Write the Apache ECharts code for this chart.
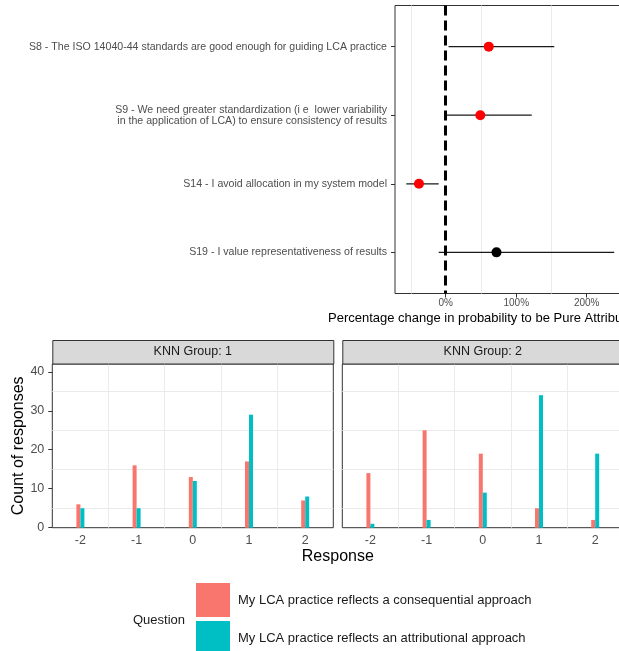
<!DOCTYPE html>
<html>
<head>
<meta charset="utf-8">
<script src="https://cdn.jsdelivr.net/npm/echarts@6/dist/echarts.min.js"></script>
<style>
  html, body { margin: 0; padding: 0; background: #fff; }
  #chart { width: 619px; height: 651px; }
</style>
</head>
<body>
<div id="chart"></div>
<script>
// top panel: effect of each statement on probability of group membership
const statements = [
  'S8 - The ISO 14040-44 standards are good enough for guiding LCA practice',
  'S9 - We need greater standardization (i e  lower variability\nin the application of LCA) to ensure consistency of results',
  'S14 - I avoid allocation in my system model',
  'S19 - I value representativeness of results'
]
const effect = [61, 49, -38, 72]
const effectLow = [4, 1, -56, -10]
const effectHigh = [154, 122, -10, 239]
const significant = [true, true, true, false]
const effectTicks = [0, 100, 200]
const effectMinor = [-50, 50, 150, 250]

// bottom panels: response counts per KNN group
const responses = ['-2', '-1', '0', '1', '2']
const questions = [
  'My LCA practice reflects a consequential approach',
  'My LCA practice reflects an attributional approach'
]
const groups = ['KNN Group: 1', 'KNN Group: 2']
const group1Consequential = [6, 16, 13, 17, 7]
const group1Attributional = [5, 5, 12, 29, 8]
const group2Consequential = [14, 25, 19, 5, 2]
const group2Attributional = [1, 2, 9, 34, 19]
const countTicks = [0, 10, 20, 30, 40]
const countMinor = [5, 15, 25, 35]

const FONT = '"Liberation Sans", Arial, sans-serif'
const RED = '#F8766D'
const CYAN = '#00BFC4'
const GRID_COLOR = '#ebebeb'

const panelLeft = [52.3, 342.3]
const panelW = 281
const panelTop = 364
const panelH = 163.7

const chart = echarts.init(document.getElementById('chart'))

const tickStyle = { length: 4, lineStyle: { color: '#333333', width: 1 } }

const countAxis = (gridIndex, visible) => ({
  type: 'value', gridIndex, min: 0, max: 42,
  axisLine: { show: false, onZero: false },
  splitLine: { show: false },
  axisTick: { show: visible, customValues: countTicks, ...tickStyle },
  axisLabel: { show: visible, customValues: countTicks, color: '#4d4d4d', fontSize: 12.5, margin: 8 },
  name: visible ? 'Count of responses' : '',
  nameLocation: 'middle',
  nameGap: 26,
  nameTextStyle: { fontSize: 16, color: '#000' }
})

const responseAxis = (gridIndex) => ({
  type: 'category', gridIndex, data: responses,
  axisLine: { show: false, onZero: false },
  axisTick: { alignWithLabel: true, ...tickStyle },
  axisLabel: { color: '#4d4d4d', fontSize: 12.5, margin: 6 },
  splitLine: { show: true, showMinLine: false, showMaxLine: false, lineStyle: { color: GRID_COLOR, width: 1 } }
})

const barSeries = (name, color, xi, yi, values) => ({
  type: 'bar', name, xAxisIndex: xi, yAxisIndex: yi,
  data: values, barWidth: 4, barGap: '0%', z: 3,
  itemStyle: { color }
})

// light minor grid lines, placed through the axis scale
const gridLines = (xi, yi, values, vertical) => ({
  type: 'custom', xAxisIndex: xi, yAxisIndex: yi, silent: true, z: 1,
  data: values.map(v => vertical ? [v, 1] : [0, v]),
  encode: { x: 0, y: 1 },
  renderItem: (params, api) => {
    const cs = params.coordSys
    const p = api.coord([api.value(0), api.value(1)])
    const shape = vertical
      ? { x1: Math.round(p[0]) + 0.5, y1: cs.y, x2: Math.round(p[0]) + 0.5, y2: cs.y + cs.height }
      : { x1: cs.x, y1: Math.round(p[1]) + 0.5, x2: cs.x + cs.width, y2: Math.round(p[1]) + 0.5 }
    return { type: 'line', shape, style: { stroke: GRID_COLOR, lineWidth: 1 } }
  }
})

const panelGrid = (left, top, width, height) => ({
  left, top, width, height,
  outerBoundsMode: 'none',
  containLabel: false,
  show: true, borderColor: '#333333', borderWidth: 1
})

const graphic = [
  {
    type: 'text', x: 328, y: 318.5,
    style: { text: 'Percentage change in probability to be Pure Attributional', fontSize: 13,
      fontFamily: FONT, fill: '#000', verticalAlign: 'middle' }
  },
  {
    type: 'text', x: panelLeft[0] + (panelLeft[1] + panelW - panelLeft[0]) / 2, y: 557,
    style: { text: 'Response', fontSize: 16, fontFamily: FONT, fill: '#000', align: 'center', verticalAlign: 'middle' }
  },
  {
    type: 'text', x: 133, y: 620,
    style: { text: 'Question', fontSize: 13, fontFamily: FONT, fill: '#1a1a1a', verticalAlign: 'middle' }
  }
]
groups.forEach((g, i) => {
  graphic.push({
    type: 'rect', z: 10,
    shape: { x: panelLeft[i] + 0.5, y: 340.5, width: panelW, height: panelTop - 340.5 },
    style: { fill: '#d9d9d9', stroke: '#333333', lineWidth: 1 }
  })
  graphic.push({
    type: 'text', z: 11, x: panelLeft[i] + panelW / 2, y: 352,
    style: { text: g, fontSize: 12.5, fontFamily: FONT, fill: '#1a1a1a', align: 'center', verticalAlign: 'middle' }
  })
})

const option = {
  animation: false,
  backgroundColor: '#fff',
  textStyle: { fontFamily: FONT },
  grid: [
    panelGrid(395, 5.5, 234, 288),
    panelGrid(panelLeft[0], panelTop, panelW, panelH),
    panelGrid(panelLeft[1], panelTop, panelW, panelH)
  ],
  xAxis: [
    {
      type: 'value', gridIndex: 0, min: -72, max: 260,
      axisLine: { show: false, onZero: false },
      splitLine: { show: false },
      axisTick: { show: true, customValues: effectTicks, ...tickStyle },
      axisLabel: { customValues: effectTicks, formatter: v => v + '%', color: '#4d4d4d', fontSize: 10, margin: 5 }
    },
    responseAxis(1),
    responseAxis(2)
  ],
  yAxis: [
    {
      type: 'value', gridIndex: 0, min: 0.4, max: 4.6, inverse: true,
      axisLine: { show: false, onZero: false },
      splitLine: { show: false },
      axisTick: { show: true, customValues: [1, 2, 3, 4], ...tickStyle },
      axisLabel: {
        customValues: [1, 2, 3, 4], formatter: v => statements[v - 1],
        color: '#4d4d4d', fontSize: 10.6, lineHeight: 11, margin: 8, align: 'right'
      }
    },
    countAxis(1, true),
    countAxis(2, false)
  ],
  legend: {
    data: questions,
    orient: 'vertical',
    left: 196, top: 583,
    width: 400, height: 120,
    padding: 0,
    itemWidth: 34, itemHeight: 34, itemGap: 4,
    icon: 'rect',
    selectedMode: false,
    textStyle: { fontSize: 13, color: '#1a1a1a', padding: [0, 0, 0, 3] }
  },
  graphic,
  series: [
    gridLines(0, 0, effectMinor, true),
    gridLines(1, 1, countMinor, false),
    gridLines(2, 2, countMinor, false),
    {
      type: 'custom', xAxisIndex: 0, yAxisIndex: 0, z: 2,
      data: statements.map((s, i) => [effectLow[i], effectHigh[i], i + 1]),
      encode: { x: [0, 1], y: 2 },
      renderItem: (params, api) => {
        const y = api.value(2)
        const a = api.coord([api.value(0), y])
        const b = api.coord([api.value(1), y])
        return {
          type: 'line',
          shape: { x1: a[0], y1: a[1], x2: b[0], y2: b[1] },
          style: { stroke: '#1a1a1a', lineWidth: 1.2 }
        }
      }
    },
    {
      type: 'scatter', xAxisIndex: 0, yAxisIndex: 0,
      data: statements.map((s, i) => [effect[i], i + 1]),
      symbolSize: 10,
      z: 3,
      itemStyle: { opacity: 1, color: p => significant[p.dataIndex] ? '#ff0000' : '#000000' },
      markLine: {
        silent: true,
        symbol: ['none', 'none'],
        label: { show: false },
        lineStyle: { color: '#000', type: [10, 5], width: 3 },
        data: [{ xAxis: 0 }]
      }
    },
    barSeries(questions[0], RED, 1, 1, group1Consequential),
    barSeries(questions[1], CYAN, 1, 1, group1Attributional),
    barSeries(questions[0], RED, 2, 2, group2Consequential),
    barSeries(questions[1], CYAN, 2, 2, group2Attributional)
  ]
}

chart.setOption(option)
</script>
</body>
</html>
